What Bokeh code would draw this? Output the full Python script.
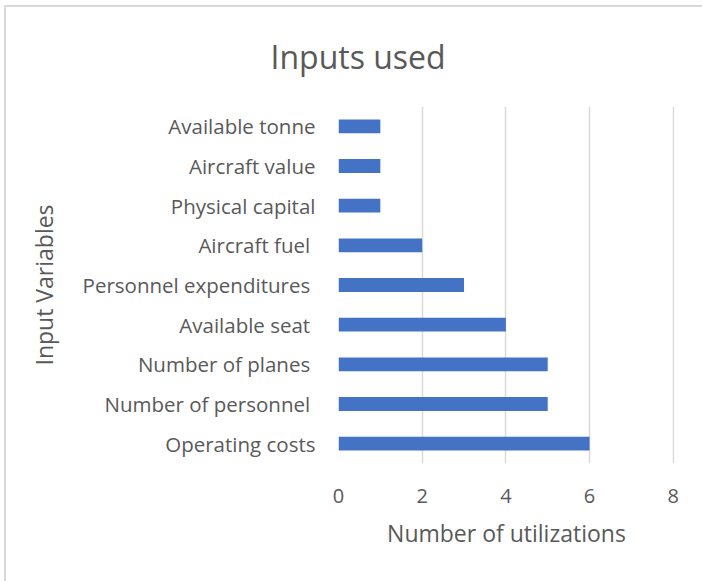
from bokeh.plotting import figure
from bokeh.models import Range1d, FactorRange, FixedTicker
from bokeh.embed import file_html
from bokeh.resources import INLINE

# Input variables (bottom to top) and how often each was used
categories = [
    "Operating costs",
    "Number of personnel ",
    "Number of planes ",
    "Available seat ",
    "Personnel expenditures ",
    "Aircraft fuel ",
    "Physical capital",
    "Aircraft value",
    "Available tonne",
]
utilizations = [6, 5, 5, 4, 3, 2, 1, 1, 1]
x_ticks = [0, 2, 4, 6, 8]

FONT = "Open Sans"
TEXT = "#595959"
GRID = "#d9d9d9"
BAR = "#4472c4"

# light chart-area edge along the top and left, painted behind a transparent canvas
edge = "linear-gradient(#d9d9d9, #d9d9d9)"
host_background = (
    f"{edge} 4px 5px / 698px 2px no-repeat, "
    f"{edge} 4px 5px / 2px 576px no-repeat, white"
)

p = figure(
    width=702,
    height=581,
    y_range=FactorRange(factors=categories),
    # a hair past 8 so the last gridline is not clipped at the frame edge
    x_range=Range1d(0, 8.03),
    output_backend="svg",
    toolbar_location=None,
    title="Inputs used",
    styles={"background": host_background},
)
p.min_border_left = 338
p.min_border_right = 28
p.min_border_top = 106
p.min_border_bottom = 118
p.outline_line_color = None
p.background_fill_color = "white"
p.border_fill_color = None

p.hbar(y=categories, right=utilizations, left=0, height=0.35,
       fill_color=BAR, line_color=None)

# title
p.title.text_font = FONT
p.title.text_font_size = "32px"
p.title.text_font_style = "normal"
p.title.text_color = TEXT
p.title.align = "left"
p.title.offset = -68
p.title.standoff = 58

# grid
p.ygrid.grid_line_color = None
p.xgrid.grid_line_color = GRID
p.xgrid.grid_line_width = 1.5
p.xaxis.ticker = FixedTicker(ticks=x_ticks)

for ax in (p.xaxis, p.yaxis):
    ax.axis_line_color = None
    ax.major_tick_line_color = None
    ax.minor_tick_line_color = None
    ax.major_tick_out = 0
    ax.major_tick_in = 0
    ax.major_label_text_font = FONT
    ax.major_label_text_color = TEXT
    ax.axis_label_text_font = FONT
    ax.axis_label_text_color = TEXT
    ax.axis_label_text_font_style = "normal"
    ax.axis_label_text_font_size = "23px"

p.yaxis.major_label_text_font_size = "20.5px"
p.yaxis.major_label_standoff = 23
p.yaxis.axis_label = "Input Variables"
p.yaxis.axis_label_standoff = 20

p.xaxis.major_label_text_font_size = "20px"
p.xaxis.major_label_standoff = 25
p.xaxis.axis_label = "Number of utilizations"
p.xaxis.axis_label_standoff = 11

open("out.html", "w").write(file_html(p, INLINE))
